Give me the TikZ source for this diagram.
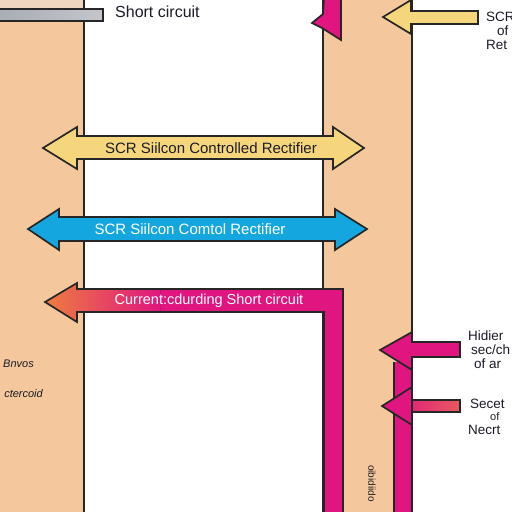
\documentclass[tikz,border=0pt]{standalone}
\usepackage{fontspec}
\setmainfont{Liberation Sans}
\begin{document}
\begin{tikzpicture}[x=1pt,y=-1pt,
  outl/.style={draw=black!85,line width=1.7pt,line join=miter},
  band/.style={fill=peach},
  lbl/.style={font=\fontsize{15}{15}\selectfont,inner sep=0pt},
  side/.style={font=\fontsize{13.5}{13.5}\selectfont,inner sep=0pt,anchor=base west,text=txt},
  vline/.style={draw=black!85,line width=1.7pt}]
\definecolor{peach}{HTML}{F4C89C}
\definecolor{yel}{HTML}{F6D67C}
\definecolor{blu}{HTML}{14A6DE}
\definecolor{mag}{HTML}{E0157F}
\definecolor{org}{HTML}{EE7D40}
\definecolor{redd}{HTML}{E65A5E}
\definecolor{gry}{HTML}{A9ADB4}
\definecolor{txt}{HTML}{1C1C28}
\useasboundingbox (0,0) rectangle (512,512);
\clip (0,0) rectangle (512,512);
\fill[white] (0,0) rectangle (512,512);
% bands
\fill[band] (0,0) rectangle (84,512);
\fill[peach!85!gray!60] (0,0) rectangle (84,9);
\fill[band] (323,0) rectangle (412,512);
\draw[vline] (84,0) -- (84,512);
\draw[vline] (323,0) -- (323,512);
\draw[vline] (412,0) -- (412,512);
% gray bar
\draw[outl,left color=gry,right color=gry!70!white] (-2,9) rectangle (103,21);
\node[font=\fontsize{16}{16}\selectfont,text=txt,anchor=base west,inner sep=0pt] (sc) at (115,17) {Short circuit};
% top magenta fragment
\draw[outl,fill=mag] (324,-2) -- (341,-2) -- (341,40) -- (322,28) -- (312,23) -- (323,14) -- cycle;
% top yellow arrow
\draw[outl,fill=yel] (383,17) -- (411,0) -- (411,11) -- (478,11) -- (478,24) -- (411,24) -- (411,34) -- cycle;
\node[side] (t1) at (486,21) {SCR};
\node[side] (t2) at (497,35) {of};
\node[side] (t3) at (486,49) {Ret};
% yellow double arrow
\draw[outl,fill=yel] (43,148) -- (77,127) -- (77,136) -- (333,136) -- (333,127) -- (364,148) -- (333,169) -- (333,159) -- (77,159) -- (77,169) -- cycle;
\node[lbl,text=txt] (ya) at (211,148) {SCR Siilcon Controlled Rectifier};
% blue double arrow
\draw[outl,fill=blu] (28,229) -- (59,209) -- (59,217) -- (335,217) -- (335,209) -- (367,229) -- (335,250) -- (335,241) -- (59,241) -- (59,250) -- cycle;
\node[lbl,text=white] (ba) at (190,229) {SCR Siilcon Comtol Rectifier};
% right pink vertical bar
\fill[mag] (394,362) rectangle (412,514);
\draw[outl] (394,514) -- (394,362);
\draw[vline] (412,362) -- (412,512);
% L-shaped gradient arrow
\fill[mag] (45,302) -- (77,283) -- (77,289) -- (343,289) -- (343,514) -- (324,514) -- (324,312) -- (77,312) -- (77,322) -- cycle;
\fill[left color=org,right color=mag] (45,302) -- (77,283) -- (77,289) -- (160,289) -- (160,312) -- (77,312) -- (77,322) -- cycle;
\draw[outl] (45,302) -- (77,283) -- (77,289) -- (343,289) -- (343,514) -- (324,514) -- (324,312) -- (77,312) -- (77,322) -- cycle;
\node[font=\fontsize{14.5}{14.5}\selectfont,text=white,inner sep=0pt] (pa) at (209,301) {Current:cdurding Short circuit};
% right arrow 1
\draw[outl,fill=mag] (380,350) -- (412,332) -- (412,342) -- (460,342) -- (460,357) -- (412,357) -- (412,370) -- cycle;
\node[side] (h1) at (468,340) {Hidier};
\node[side] (h2) at (471,354) {sec/ch};
\node[side] (h3) at (474,368) {of ar};
% right arrow 2
\fill[left color=mag!70!redd,right color=redd] (412,400) rectangle (460,412);
\draw[outl] (412,400) -- (460,400) -- (460,412) -- (412,412);
\draw[outl,fill=mag] (382,406) -- (412,387) -- (412,425) -- cycle;
\node[side] (s1) at (470,408) {Secet};
\node[side,font=\fontsize{11}{11}\selectfont] (s2) at (490,420) {of};
\node[side] (s3) at (468,434) {Necrt};
% rotated label
\node[rotate=-90,anchor=west,font=\fontsize{10}{10}\selectfont,text=txt,inner sep=0pt] (rt) at (372,465) {oibidiido};
% left italic labels
\node[anchor=base east,font=\itshape\fontsize{11}{11}\selectfont,text=txt,inner sep=0pt] (l1) at (34,367) {n Bnvos};
\node[anchor=base east,font=\itshape\fontsize{11}{11}\selectfont,text=txt,inner sep=0pt] (l2) at (43,397) {ctercoid};
\end{tikzpicture}
\end{document}
